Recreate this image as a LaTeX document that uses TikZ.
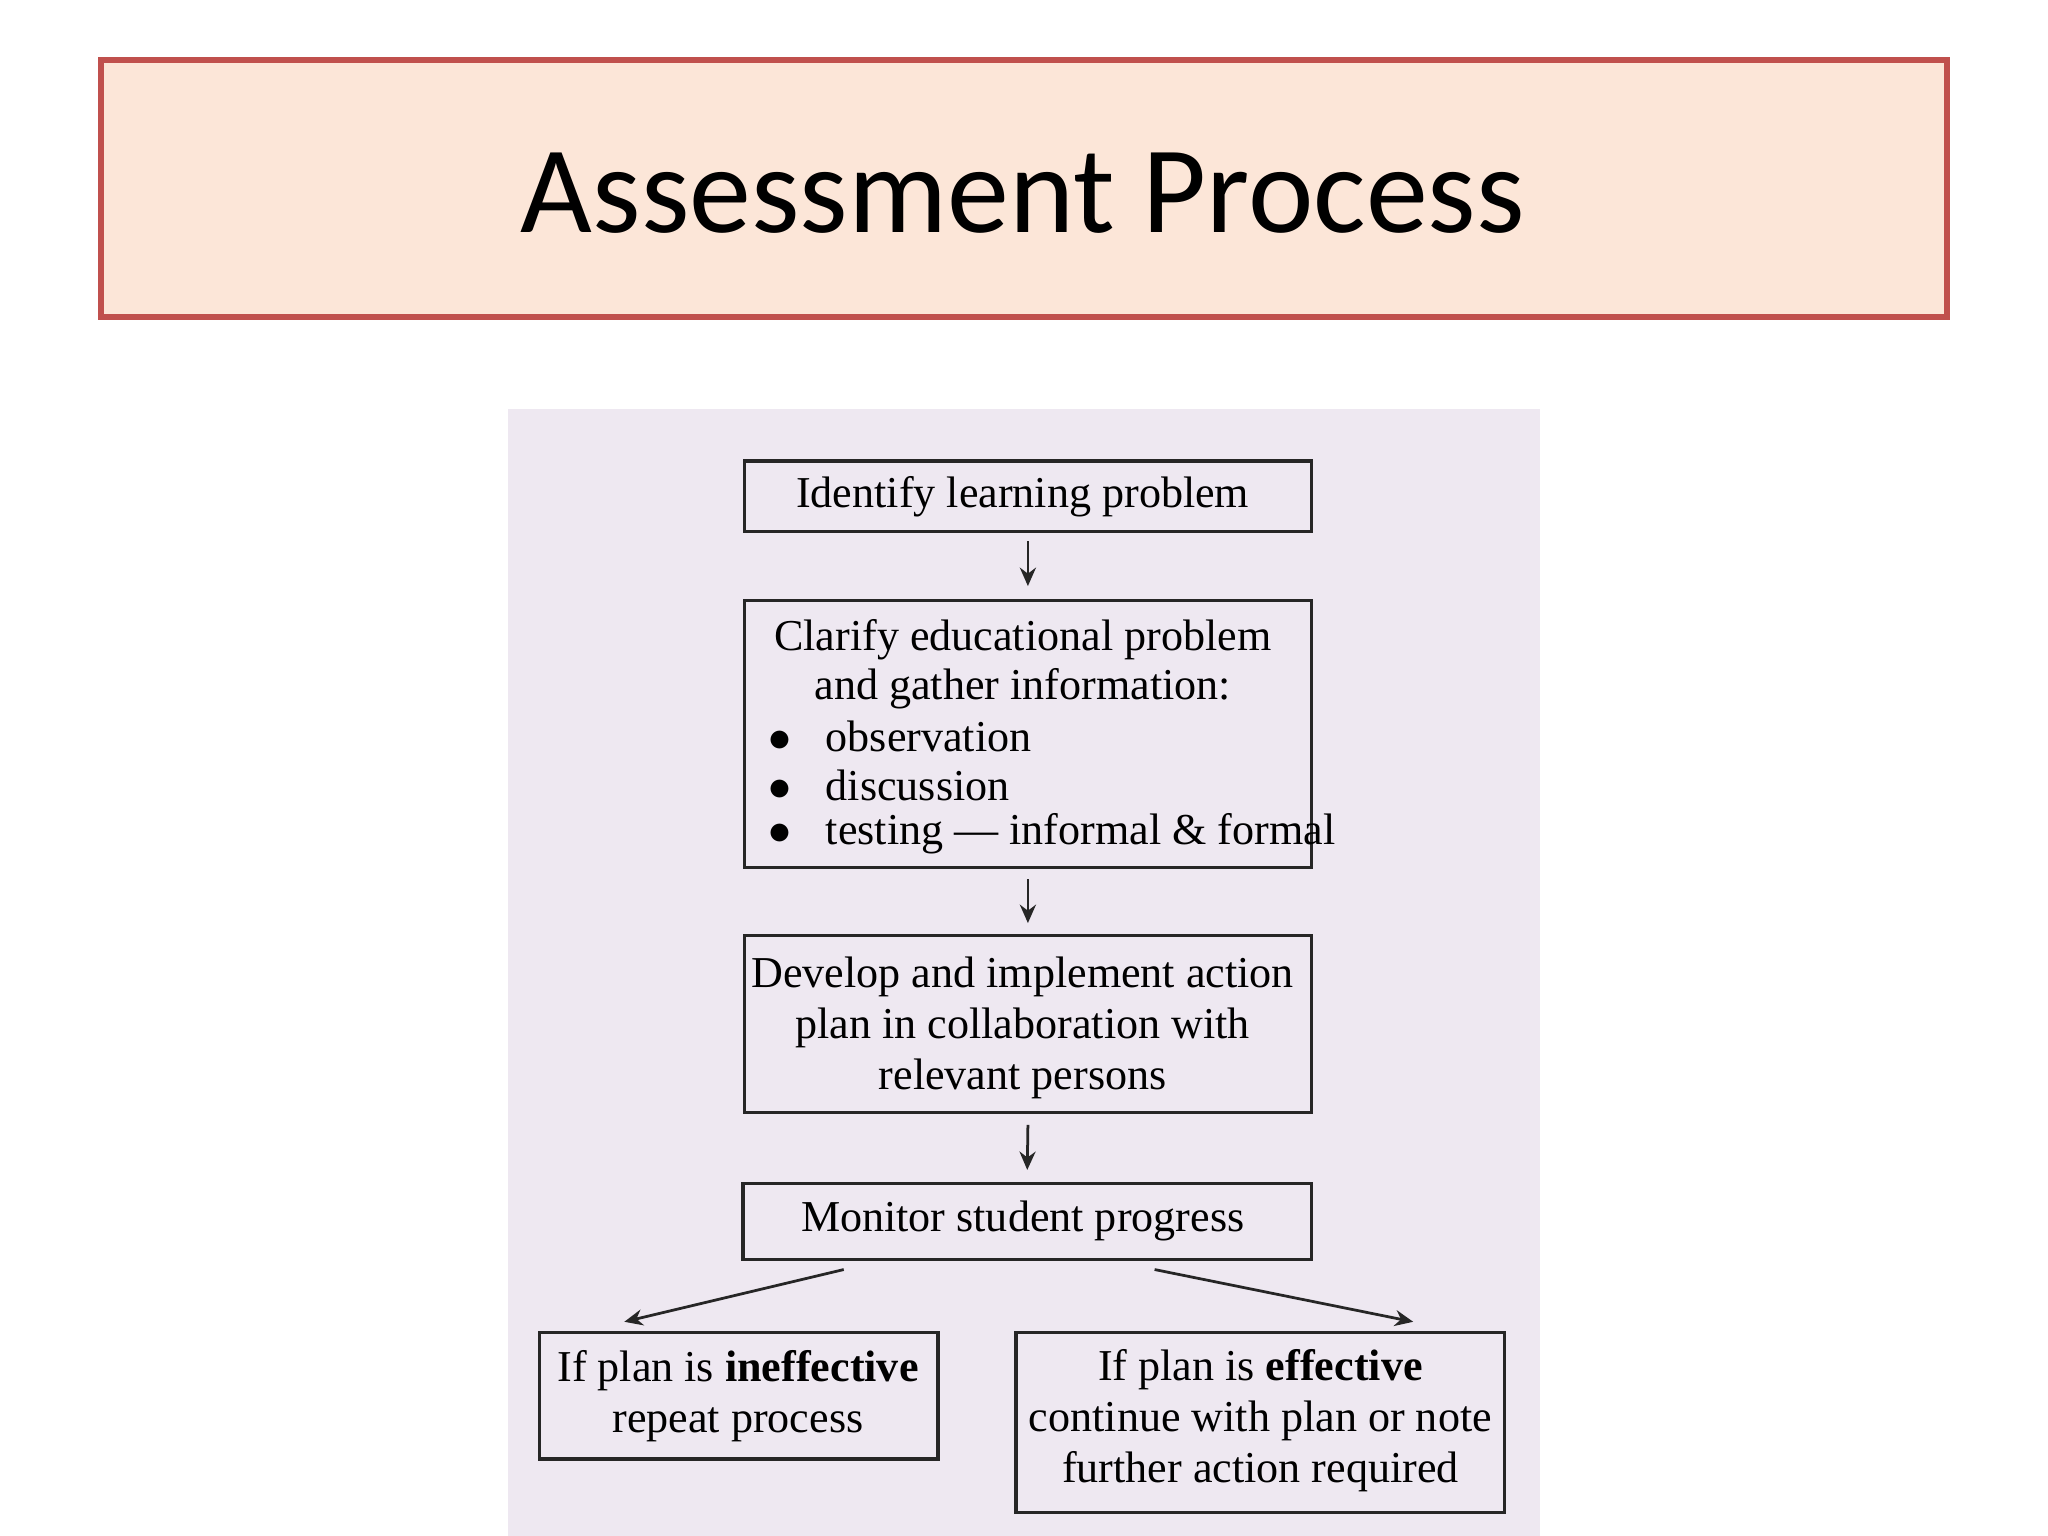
\documentclass[tikz,border=0pt]{standalone}
\usepackage{fontspec}
\setmainfont{Liberation Serif}
\newfontfamily\titlefont{Carlito}
\usetikzlibrary{arrows.meta}
\definecolor{peach}{HTML}{FCE6D8}
\definecolor{tred}{HTML}{C0504D}
\definecolor{panel}{HTML}{EEE8F1}
\tikzset{
  fbox/.style={draw=black!85, line width=0.7pt, fill=panel},
  farrow/.style={draw=black!85, line width=0.6pt, -{Stealth[length=4pt,width=3.5pt]}},
  ftext/.style={font=\fontsize{9.6}{10.5}\selectfont, align=center, inner sep=0pt},
}
\begin{document}
\begin{tikzpicture}[x=0.01cm,y=-0.01cm]
\useasboundingbox (0,0) rectangle (1568,1176);
\fill[white] (0,0) rectangle (1568,1176);
% title
\node[draw=tred, line width=1.3pt, fill=peach, minimum width=14.12cm, minimum height=1.97cm, inner sep=0pt] (title) at (784,144.5) {};
\node[font=\titlefont\fontsize{27}{30}\selectfont] (tt) at (783,148) {Assessment Process};
% panel
\fill[panel] (389,313) rectangle (1179,1176);
% boxes
\node[fbox, minimum width=4.34cm, minimum height=0.54cm, inner sep=0pt] (b1) at (787,380) {};
\node[ftext] (t1) at (783,380) {Identify learning problem};
\node[fbox, minimum width=4.34cm, minimum height=2.04cm, inner sep=0pt] (b2) at (787,562) {};
\node[ftext] (t2a) at (783,490) {Clarify educational problem};
\node[ftext] (t2b) at (783,527) {and gather information:};
\node[ftext, anchor=west] (t2c) at (588,564) {$\bullet$\hspace{0.26cm}observation};
\node[ftext, anchor=west] (t2d) at (588,601) {$\bullet$\hspace{0.26cm}discussion};
\node[ftext, anchor=west] (t2e) at (588,638) {$\bullet$\hspace{0.26cm}testing --- informal \& formal};
\node[fbox, minimum width=4.34cm, minimum height=1.36cm, inner sep=0pt] (b3) at (787,784) {};
\node[ftext] (t3) at (783,787) {Develop and implement action\\[0.6pt]plan in collaboration with\\[0.6pt]relevant persons};
\node[fbox, minimum width=4.35cm, minimum height=0.58cm, inner sep=0pt] (b4) at (786.5,935) {};
\node[ftext] (t4) at (783,935) {Monitor student progress};
\node[fbox, minimum width=3.05cm, minimum height=0.97cm, inner sep=0pt] (b5) at (565.5,1068.5) {};
\node[ftext] (t5) at (565,1069) {If plan is \textbf{ineffective}\\[0.6pt]repeat process};
\node[fbox, minimum width=3.74cm, minimum height=1.38cm, inner sep=0pt] (b6) at (965,1089) {};
\node[ftext] (t6) at (965,1088) {If plan is \textbf{effective}\\[0.6pt]continue with plan or note\\[0.6pt]further action required};
% arrows
\draw[farrow] ([yshift=-0.06cm]b1.south) -- ([yshift=0.1cm]b2.north);
\draw[farrow] ([yshift=-0.08cm]b2.south) -- ([yshift=0.08cm]b3.north);
\draw[farrow] ([yshift=-0.08cm]b3.south) -- ([yshift=0.09cm]b4.north);
\coordinate (l0) at (646,972); \coordinate (l1) at (478,1012);
\coordinate (r0) at (884,972); \coordinate (r1) at (1082,1012);
\draw[farrow] (l0) -- (l1);
\draw[farrow] (r0) -- (r1);
\end{tikzpicture}
\end{document}
